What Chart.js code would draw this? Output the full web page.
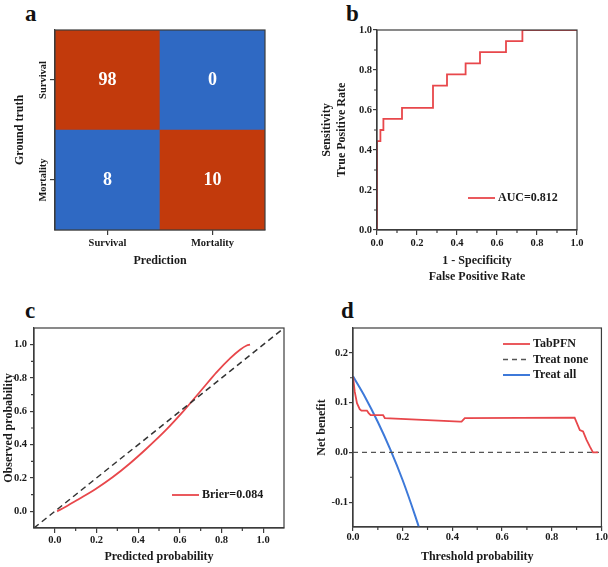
<!DOCTYPE html>
<html>
<head>
<meta charset="utf-8">
<script src="https://cdn.jsdelivr.net/npm/chart.js@4.4.0/dist/chart.umd.min.js"></script>
<style>
body { margin: 0; background: #fff; }
#page { position: relative; width: 608px; height: 567px; overflow: hidden; }
canvas { position: absolute; }
.tag { position: absolute; font: bold 23px 'Liberation Serif', 'Times New Roman', serif; line-height: 23px; color: #111; }
</style>
</head>
<body>
<div id="page">
	<div class="tag" style="left:25px;top:2px">a</div>
	<div class="tag" style="left:346px;top:2px">b</div>
	<div class="tag" style="left:25px;top:299px">c</div>
	<div class="tag" style="left:341px;top:299px">d</div>
	<canvas id="cm_chart" width="275" height="280" style="left:0;top:0"></canvas>
	<canvas id="roc_chart" width="308" height="290" style="left:300px;top:0"></canvas>
	<canvas id="cal_chart" width="300" height="277" style="left:0;top:290px"></canvas>
	<canvas id="dca_chart" width="308" height="277" style="left:300px;top:290px"></canvas>
</div>
<script>
// a - confusion matrix, rows = ground truth, cols = prediction
var classes = ['Survival', 'Mortality'];
var cmSurvivalRow = [98, 0];
var cmMortalityRow = [8, 10];

// b - ROC curve
var rocFpr = [0, 0, 0.017, 0.017, 0.032, 0.032, 0.125, 0.125, 0.28, 0.28, 0.35, 0.35, 0.443, 0.443, 0.515, 0.515, 0.645, 0.645, 0.727, 0.727, 1.0];
var rocTpr = [0, 0.444, 0.444, 0.5, 0.5, 0.556, 0.556, 0.611, 0.611, 0.722, 0.722, 0.778, 0.778, 0.833, 0.833, 0.889, 0.889, 0.944, 0.944, 1.0, 1.0];
var rocLabel = 'AUC=0.812';

// c - calibration curve
var calPred = [0.011, 0.05, 0.116, 0.196, 0.277, 0.357, 0.438, 0.535, 0.615, 0.663, 0.712, 0.776, 0.841, 0.889, 0.921, 0.937];
var calObs = [0.0, 0.026, 0.074, 0.134, 0.204, 0.284, 0.374, 0.49, 0.598, 0.668, 0.74, 0.834, 0.918, 0.97, 0.995, 1.0];
var calRef = [-0.1, 1.1];
var calLabel = 'Brier=0.084';

// d - decision curve
var dcaModelThr = [0, 0.007, 0.016, 0.027, 0.034, 0.056, 0.063, 0.071, 0.121, 0.128, 0.43, 0.437, 0.45, 0.892, 0.913, 0.926, 0.94, 0.953, 0.966, 0.986];
var dcaModelNb = [0.152, 0.122, 0.099, 0.087, 0.084, 0.084, 0.079, 0.075, 0.075, 0.069, 0.062, 0.062, 0.069, 0.07, 0.045, 0.042, 0.025, 0.012, 0.0, 0.0];
var dcaNoneThr = [0, 0.99];
var dcaNoneNb = [0, 0];
var dcaAllThr = [0, 0.05, 0.1, 0.15, 0.2, 0.25, 0.265];
var dcaAllNb = [0.153, 0.11, 0.061, 0.006, -0.056, -0.127, -0.15];
var dcaLabels = ['TabPFN', 'Treat none', 'Treat all'];

// ticks
var unitTicks = [0, 0.2, 0.4, 0.6, 0.8, 1.0];
var unitMinor = [0.1, 0.3, 0.5, 0.7, 0.9];
var nbTicks = [-0.1, 0, 0.1, 0.2];
var nbMinor = [-0.05, 0.05, 0.15];

var SERIF = "'Liberation Serif', 'Times New Roman', serif";
var AXIS = '#3c3c3c';
var TXT = '#1a1a1a';
var ORANGE = '#c23a0c';
var BLUE = '#2f69c3';
var RED = '#e8474b';
var LBLUE = '#3d79d9';
var TICK_FONT = { family: SERIF, size: 10.5, weight: 'bold' };

function zip(xs, ys) {
	var pts = [];
	for (var i in xs) {
		pts.push({ x: xs[i], y: ys[i] });
	}
	return pts;
}

function axis(o) {
	return {
		type: 'linear', min: o.min, max: o.max,
		afterBuildTicks: function(s) { s.ticks = o.ticks.map(function(v) { return { value: v }; }); },
		afterFit: function(s) { if (s.isHorizontal()) s.height = o.size; else s.width = o.size; },
		grid: { drawOnChartArea: false, tickLength: o.tl || 5, color: AXIS, lineWidth: 1.2 },
		border: { color: AXIS, width: 1.2 },
		ticks: { font: TICK_FONT, color: TXT, padding: o.pad, callback: function(v) { return v.toFixed(1); } },
		title: { display: true, text: o.title, color: TXT, padding: o.tpad,
			font: { family: SERIF, size: 12, weight: 'bold', lineHeight: o.lh || 1.2 } }
	};
}

// box round the plot area plus short minor ticks
var framePlugin = {
	id: 'frame',
	afterDraw: function(chart, args, opts) {
		var ctx = chart.ctx, a = chart.chartArea;
		ctx.save();
		ctx.strokeStyle = AXIS;
		ctx.lineWidth = 1.2;
		ctx.strokeRect(a.left, a.top, a.right - a.left, a.bottom - a.top);
		ctx.beginPath();
		(opts.xMinor || []).forEach(function(v) {
			var px = chart.scales.x.getPixelForValue(v);
			ctx.moveTo(px, a.bottom); ctx.lineTo(px, a.bottom + 3);
		});
		(opts.yMinor || []).forEach(function(v) {
			var py = chart.scales.y.getPixelForValue(v);
			ctx.moveTo(a.left, py); ctx.lineTo(a.left - 3, py);
		});
		ctx.stroke();
		ctx.restore();
	}
};

// legend drawn inside the plot area
var innerLegend = {
	id: 'innerLegend',
	afterDatasetsDraw: function(chart, args, opts) {
		if (opts.x == null) return;
		var ctx = chart.ctx, a = chart.chartArea;
		var y = a.top + opts.y;
		chart.data.datasets.forEach(function(ds) {
			if (!ds.label) return;
			var x = a.left + opts.x;
			ctx.save();
			ctx.strokeStyle = ds.borderColor;
			ctx.lineWidth = ds.borderWidth;
			ctx.setLineDash(ds.borderDash || []);
			ctx.beginPath(); ctx.moveTo(x, y); ctx.lineTo(x + 27, y); ctx.stroke();
			ctx.fillStyle = TXT;
			ctx.font = 'bold 12px ' + SERIF;
			ctx.textBaseline = 'middle';
			ctx.fillText(ds.label, x + 30, y);
			ctx.restore();
			y += opts.rowH || 0;
		});
	}
};

// counts in the cells and rotated row labels
var cmText = {
	id: 'cmText',
	afterDatasetsDraw: function(chart) {
		var ctx = chart.ctx;
		ctx.save();
		ctx.textAlign = 'center';
		ctx.textBaseline = 'middle';
		ctx.fillStyle = '#fff';
		ctx.font = 'bold 18px ' + SERIF;
		chart.data.datasets.forEach(function(ds, i) {
			chart.getDatasetMeta(i).data.forEach(function(bar, j) {
				ctx.fillText(String(ds.counts[j]), bar.x, (bar.y + bar.base) / 2);
			});
		});
		ctx.fillStyle = TXT;
		ctx.font = 'bold 10.5px ' + SERIF;
		chart.data.datasets.forEach(function(ds, i) {
			var py = chart.scales.y.getPixelForValue(i + 0.5);
			ctx.save();
			ctx.translate(43, py);
			ctx.rotate(-Math.PI / 2);
			ctx.fillText(ds.label, 0, 0);
			ctx.restore();
		});
		ctx.restore();
	}
};

var noUi = { legend: { display: false }, tooltip: { enabled: false } };

new Chart(document.getElementById('cm_chart'), {
	type: 'bar',
	data: {
		labels: classes,
		datasets: [
			{ label: classes[1], counts: cmMortalityRow, data: cmMortalityRow.map(function() { return 1; }),
				backgroundColor: cmMortalityRow.map(function(v, j) { return j === 1 ? ORANGE : BLUE; }) },
			{ label: classes[0], counts: cmSurvivalRow, data: cmSurvivalRow.map(function() { return 1; }),
				backgroundColor: cmSurvivalRow.map(function(v, j) { return j === 0 ? ORANGE : BLUE; }) }
		]
	},
	options: {
		responsive: false, animation: false,
		layout: { padding: { top: 30, right: 10 }, autoPadding: false },
		datasets: { bar: { barPercentage: 1, categoryPercentage: 1, borderWidth: 0 } },
		scales: {
			x: {
				stacked: true, offset: true,
				afterFit: function(s) { s.height = 50; },
				grid: { offset: false, drawOnChartArea: false, tickLength: 5, color: AXIS, lineWidth: 1.2 },
				border: { color: AXIS, width: 1.2 },
				ticks: { font: TICK_FONT, color: TXT, padding: 2 },
				title: { display: true, text: 'Prediction', color: TXT, padding: { top: 0, bottom: 12 },
					font: { family: SERIF, size: 12, weight: 'bold' } }
			},
			y: {
				stacked: true, min: 0, max: 2,
				afterBuildTicks: function(s) { s.ticks = [{ value: 0.5 }, { value: 1.5 }]; },
				afterFit: function(s) { s.width = 55; },
				grid: { drawOnChartArea: false, tickLength: 5, color: AXIS, lineWidth: 1.2 },
				border: { color: AXIS, width: 1.2 },
				ticks: { display: false },
				title: { display: true, text: 'Ground truth', color: TXT, padding: { top: 13, bottom: 0 },
					font: { family: SERIF, size: 12, weight: 'bold' } }
			}
		},
		plugins: Object.assign({ frame: {} }, noUi)
	},
	plugins: [cmText, framePlugin]
});

new Chart(document.getElementById('roc_chart'), {
	type: 'scatter',
	data: {
		datasets: [
			{ label: rocLabel, data: zip(rocFpr, rocTpr), showLine: true, borderColor: RED, borderWidth: 1.8, pointRadius: 0 }
		]
	},
	options: {
		responsive: false, animation: false,
		layout: { padding: { top: 30, right: 31 }, autoPadding: false },
		scales: {
			x: axis({ min: 0, max: 1, ticks: unitTicks, size: 60, pad: 2, title: ['1 - Specificity', 'False Positive Rate'], lh: 1.33, tpad: { top: 0, bottom: 5 } }),
			y: axis({ min: 0, max: 1, ticks: unitTicks, size: 77, pad: 1, tl: 4, title: ['Sensitivity', 'True Positive Rate'], lh: 1.25, tpad: { top: 19.5, bottom: 0 } })
		},
		plugins: Object.assign({ frame: { xMinor: unitMinor, yMinor: unitMinor }, innerLegend: { x: 91, y: 168 } }, noUi)
	},
	plugins: [framePlugin, innerLegend]
});

new Chart(document.getElementById('cal_chart'), {
	type: 'scatter',
	data: {
		datasets: [
			{ data: zip(calRef, calRef), showLine: true, borderColor: '#333', borderWidth: 1.5, borderDash: [6, 4], pointRadius: 0 },
			{ label: calLabel, data: zip(calPred, calObs), showLine: true, borderColor: RED, borderWidth: 1.8, pointRadius: 0, cubicInterpolationMode: 'monotone' }
		]
	},
	options: {
		responsive: false, animation: false,
		layout: { padding: { top: 38, right: 16 }, autoPadding: false },
		scales: {
			x: axis({ min: -0.1, max: 1.1, ticks: unitTicks, size: 39, pad: 1, title: 'Predicted probability', tpad: { top: 0, bottom: 3 } }),
			y: axis({ min: -0.1, max: 1.1, ticks: unitTicks, size: 34, pad: 3, tl: 4, title: 'Observed probability', tpad: { top: 2, bottom: 0 } })
		},
		plugins: Object.assign({ frame: { xMinor: unitMinor, yMinor: unitMinor }, innerLegend: { x: 138, y: 167 } }, noUi)
	},
	plugins: [framePlugin, innerLegend]
});

new Chart(document.getElementById('dca_chart'), {
	type: 'scatter',
	data: {
		datasets: [
			{ label: dcaLabels[0], data: zip(dcaModelThr, dcaModelNb), showLine: true, borderColor: RED, borderWidth: 1.8, pointRadius: 0 },
			{ label: dcaLabels[1], data: zip(dcaNoneThr, dcaNoneNb), showLine: true, borderColor: '#555', borderWidth: 1.3, borderDash: [5, 4], pointRadius: 0 },
			{ label: dcaLabels[2], data: zip(dcaAllThr, dcaAllNb), showLine: true, borderColor: LBLUE, borderWidth: 2, pointRadius: 0, cubicInterpolationMode: 'monotone' }
		]
	},
	options: {
		responsive: false, animation: false,
		layout: { padding: { top: 38, right: 6 }, autoPadding: false },
		scales: {
			x: axis({ min: 0, max: 1, ticks: unitTicks, size: 40, pad: 0, tl: 4, title: 'Threshold probability', tpad: { top: 0, bottom: 3 } }),
			y: axis({ min: -0.15, max: 0.25, ticks: nbTicks, size: 53, pad: 1, tl: 4, title: 'Net benefit', tpad: { top: 14.5, bottom: 0 } })
		},
		plugins: Object.assign({ frame: { xMinor: unitMinor, yMinor: nbMinor }, innerLegend: { x: 150, y: 16, rowH: 15.5 } }, noUi)
	},
	plugins: [framePlugin, innerLegend]
});
</script>
</body>
</html>
